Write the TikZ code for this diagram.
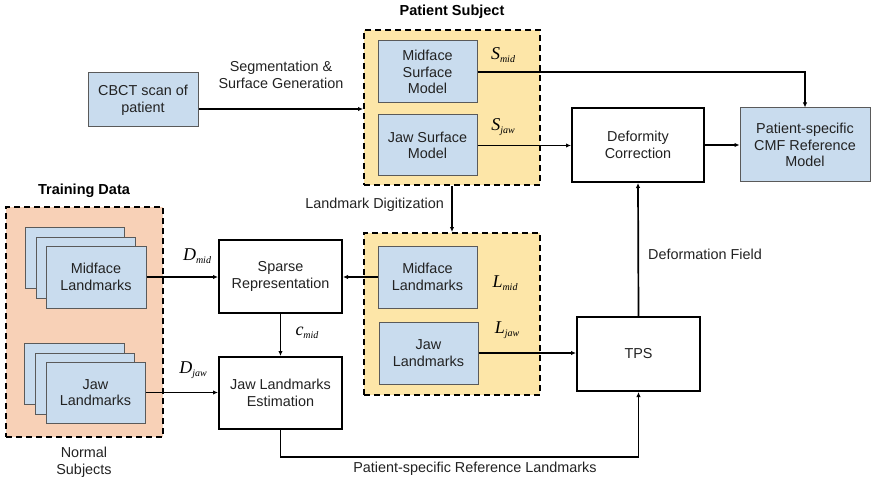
\documentclass[tikz,border=0pt]{standalone}
\usepackage{fontspec}
\setmainfont{Liberation Sans}
\newfontfamily\tmsfont{Liberation Serif}
\usetikzlibrary{arrows.meta}
\definecolor{boxblue}{HTML}{C9DCEE}
\definecolor{boxedge}{HTML}{5A5A5A}
\definecolor{patyellow}{HTML}{FDE6A8}
\definecolor{trainorange}{HTML}{F8D1B7}
\definecolor{inktext}{HTML}{222222}
% italic symbol with a lowered subscript
\newcommand\symlab[2]{{\tmsfont\itshape\fontsize{18}{18}\selectfont #1\raisebox{-3.5pt}{\fontsize{10}{10}\selectfont #2}}}
\tikzset{
  txt/.style={font=\fontsize{14.4}{16.7}\selectfont, text=inktext, align=center, inner sep=0pt},
  bluebox/.style={txt, draw=boxedge, line width=1pt, fill=boxblue},
  blackbox/.style={txt, draw=black, line width=2pt, fill=white},
  groupbox/.style={draw=black, line width=2pt, dash pattern=on 6pt off 4pt, inner sep=0pt},
  arr/.style={line width=1.7pt, -{Latex[length=5pt,width=4.5pt]}},
  title/.style={font=\bfseries\fontsize{14.5}{17}\selectfont, align=center, inner sep=0pt},
  symbol/.style={inner sep=0pt}
}
\begin{document}
\begin{tikzpicture}[x=1pt,y=-1pt]
\useasboundingbox (0,0) rectangle (872,481);

% group backgrounds
\node[groupbox, fill=patyellow, minimum width=176pt, minimum height=155pt] (pat) at (452,107.5) {};
\node[groupbox, fill=patyellow, minimum width=176pt, minimum height=162pt] (lyel) at (452,314) {};
\node[groupbox, fill=trainorange, minimum width=157pt, minimum height=230pt] (train) at (84.5,322) {};

% titles
\node[title] (pattitle) at (452,12) {Patient Subject};
\node[title] (traintitle) at (84,191) {Training Data};
\node[txt] (normal) at (84,462) {Normal\\Subjects};

% patient input
\node[bluebox, minimum width=110pt, minimum height=54pt] (cbct) at (143,100) {CBCT scan of\\patient};

% surface models
\node[bluebox, minimum width=99pt, minimum height=62pt] (msm) at (427.5,72) {Midface\\Surface\\Model};
\node[bluebox, minimum width=99pt, minimum height=61pt] (jsm) at (427.5,145.5) {Jaw Surface\\Model};

% patient landmarks
\node[bluebox, minimum width=99pt, minimum height=62pt] (mlm) at (427.5,277) {Midface\\Landmarks};
\node[bluebox, minimum width=99pt, minimum height=62pt] (jlm) at (428.5,353) {Jaw\\Landmarks};

% training landmark stacks
\node[bluebox, minimum width=99pt, minimum height=61pt] (mback) at (74.5,257.5) {};
\node[bluebox, minimum width=99pt, minimum height=61pt] (mmid) at (85.5,267.5) {};
\node[bluebox, minimum width=100pt, minimum height=62pt] (mfront) at (96,277) {Midface\\Landmarks};
\node[bluebox, minimum width=100pt, minimum height=61pt] (jback) at (74,373.5) {};
\node[bluebox, minimum width=99pt, minimum height=61pt] (jmid) at (84.5,383.5) {};
\node[bluebox, minimum width=99pt, minimum height=61pt] (jfront) at (95.5,392.5) {Jaw\\Landmarks};

% processing blocks
\node[blackbox, minimum width=123pt, minimum height=73pt] (sr) at (280.5,276.5) {Sparse\\Representation};
\node[blackbox, minimum width=123pt, minimum height=72pt] (jle) at (280.5,393) {Jaw Landmarks\\Estimation};
\node[blackbox, minimum width=123pt, minimum height=74pt] (tps) at (638.5,354) {TPS};
\node[blackbox, minimum width=132pt, minimum height=74pt] (dc) at (638,145) {Deformity\\Correction};
\node[bluebox, minimum width=130pt, minimum height=74pt] (cmf) at (805,145) {Patient-specific\\CMF Reference\\Model};

% connectors
\draw[arr] ([yshift=-9pt]cbct.east) -- ([yshift=-9pt]cbct.east -| pat.west);
\draw[arr] (msm.east) -| (cmf.north);
\draw[arr] (jsm.east) -- (jsm.east -| dc.west);
\draw[arr] (dc.east) -- (dc.east -| cmf.west);
\draw[arr] (pat.south) -- (lyel.north);
\draw[arr] (mlm.west) -- (mlm.west -| sr.east);
\draw[arr] (jlm.east) -- (jlm.east -| tps.west);
\draw[arr] (mfront.east) -- (mfront.east -| sr.west);
\draw[arr] (jfront.east) -- (jfront.east -| jle.west);
\draw[arr] (sr.south) -- (jle.north);
\draw[arr] (jle.south) -- ++(0,27) coordinate (bend) -| (tps.south);
\draw[arr] (tps.north) -- (dc.south);

% connector labels
\node[txt] (seglab) at (281,75) {Segmentation \&\\Surface Generation};
\node[txt, anchor=east] (diglab) at (444,205) {Landmark Digitization};
\node[txt, anchor=west] (deflab) at (648,254) {Deformation Field};
\node[txt] (reflab) at (475,469) {Patient-specific Reference Landmarks};

% symbols
\node[symbol] (smid) at (503,55) {\symlab{S}{mid}};
\node[symbol] (sjaw) at (503,127) {\symlab{S}{jaw}};
\node[symbol] (lmid) at (505,283) {\symlab{L}{mid}};
\node[symbol] (ljaw) at (507,330) {\symlab{L}{jaw}};
\node[symbol] (dmid) at (197,256) {\symlab{D}{mid}};
\node[symbol] (djaw) at (193,370) {\symlab{D}{jaw}};
\node[symbol] (cmidlab) at (307,333) {\symlab{c}{mid}};
\end{tikzpicture}
\end{document}
